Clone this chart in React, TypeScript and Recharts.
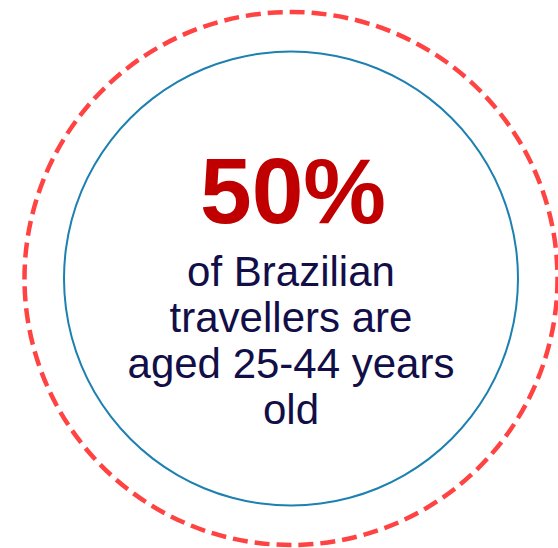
import { Label, Pie, PieChart, PolarGrid } from 'recharts'

// headline stat and the caption under it
const headline = '50%'
const captionLines = ['of Brazilian', 'travellers are', 'aged 25-44 years', 'old']
// full ring drawn as a single slice
const ringData = [{ name: 'all', value: 100 }]
const dashedRingRadius = [266.5]

const WIDTH = 558
const HEIGHT = 548
const CX = 291
const CY = 278.5

const RED = '#c00000'
const NAVY = '#120e48'
const BLUE = '#1d80b0'
const DASH_RED = '#ff4242'
const FONT = 'Arial, "Liberation Sans", Helvetica, sans-serif'

function CenterText({ viewBox }: any) {
  const cx = viewBox?.cx ?? CX
  const cy = viewBox?.cy ?? CY
  return (
    <g>
      <text
        x={cx + 2}
        y={cy - 56}
        textAnchor="middle"
        fill={RED}
        fontFamily={FONT}
        fontWeight={700}
        fontSize={93}
      >
        {headline}
      </text>
      {captionLines.map((line, i) => (
        <text
          key={line}
          x={cx}
          y={cy + 7 + i * 46}
          textAnchor="middle"
          fill={NAVY}
          fontFamily={FONT}
          fontSize={42}
        >
          {line}
        </text>
      ))}
    </g>
  )
}

export default function App() {
  return (
    <div style={{ position: 'absolute', left: 0, top: 0, background: '#fff' }}>
      <PieChart
        width={WIDTH}
        height={HEIGHT}
        cx={CX}
        cy={CY}
        margin={{ top: 0, right: 0, bottom: 0, left: 0 }}
      >
        <PolarGrid
          cx={CX}
          cy={CY}
          gridType="circle"
          polarRadius={dashedRingRadius}
          polarAngles={[]}
          radialLines={false}
          stroke={DASH_RED}
          strokeWidth={4.5}
          strokeDasharray="15 7"
        />
        <Pie
          data={ringData}
          dataKey="value"
          cx={CX}
          cy={CY}
          innerRadius={226}
          outerRadius={228}
          startAngle={90}
          endAngle={-270}
          fill={BLUE}
          stroke="none"
          isAnimationActive={false}
        >
          <Label position="center" content={<CenterText />} />
        </Pie>
      </PieChart>
    </div>
  )
}
